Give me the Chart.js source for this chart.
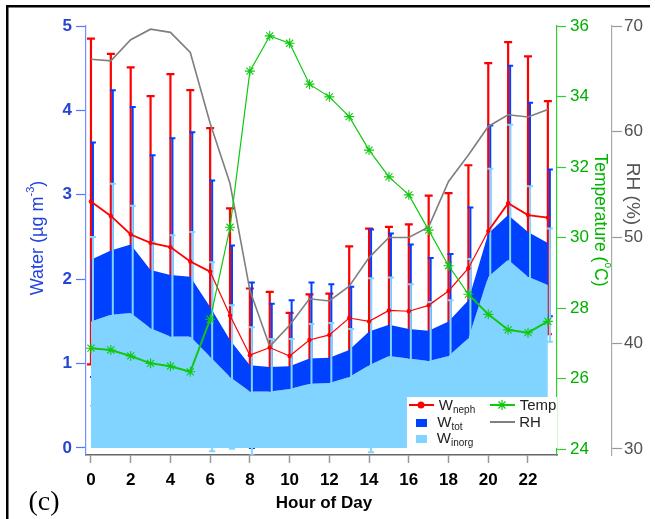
<!DOCTYPE html>
<html>
<head>
<meta charset="utf-8">
<script src="https://cdn.jsdelivr.net/npm/chart.js@4.4.1/dist/chart.umd.min.js"></script>
<style>
  html, body { margin: 0; padding: 0; background: #fff; }
  #wrap { width: 655px; height: 519px; }
</style>
</head>
<body>
<div id="wrap"><canvas id="myChart" width="655" height="519"></canvas></div>
<script>
const hours = [0, 1, 2, 3, 4, 5, 6, 7, 8, 9, 10, 11, 12, 13, 14, 15, 16, 17, 18, 19, 20, 21, 22, 23];

// water (ug m-3) and symmetric error bars
const wNeph = [2.92, 2.75, 2.53, 2.43, 2.38, 2.21, 2.09, 1.57, 1.10, 1.19, 1.09, 1.28, 1.34, 1.54, 1.50, 1.63, 1.62, 1.69, 1.86, 2.13, 2.57, 2.90, 2.76, 2.73];
const wNephErr = [1.93, 1.92, 1.98, 1.74, 2.05, 2.03, 1.70, 1.27, 0.79, 0.66, 0.51, 0.54, 0.49, 0.85, 1.10, 0.99, 1.03, 1.30, 1.16, 1.22, 1.99, 1.91, 1.88, 1.38];
const wTot = [2.23, 2.34, 2.41, 2.11, 2.05, 2.03, 1.67, 1.28, 0.98, 0.96, 0.97, 1.06, 1.07, 1.16, 1.38, 1.46, 1.41, 1.39, 1.50, 1.75, 2.54, 2.76, 2.56, 2.43];
const wTotErr = [1.39, 1.90, 1.63, 1.36, 1.62, 1.71, 1.50, 1.12, 0.98, 0.75, 0.78, 0.90, 0.87, 0.75, 1.21, 1.08, 1.00, 0.86, 0.80, 1.10, 1.28, 1.77, 1.53, 0.87];
const wInorg = [1.50, 1.58, 1.60, 1.42, 1.32, 1.32, 1.08, 0.84, 0.67, 0.67, 0.70, 0.76, 0.77, 0.84, 0.98, 1.09, 1.06, 1.03, 1.09, 1.30, 2.03, 2.23, 2.03, 1.93];
const wInorgErr = [1.00, 1.55, 1.27, 1.02, 1.20, 1.24, 1.12, 0.85, 0.76, 0.62, 0.59, 0.71, 0.71, 0.57, 1.03, 0.93, 0.88, 0.70, 0.66, 0.94, 1.28, 1.60, 1.07, 0.67];

// temperature (C) and RH (%)
const temp = [26.86, 26.81, 26.64, 26.43, 26.35, 26.19, 27.68, 30.29, 34.72, 35.72, 35.51, 34.35, 33.99, 33.43, 32.48, 31.72, 31.21, 30.21, 29.20, 28.39, 27.82, 27.38, 27.30, 27.62];
const rh = [66.85, 66.7, 68.7, 69.7, 69.4, 67.5, 60.8, 55.1, 45.0, 39.7, 41.7, 44.2, 44.0, 45.4, 48.1, 50.0, 50.0, 51.0, 55.3, 57.8, 60.5, 61.6, 61.4, 62.1];

const hourTicks = [0, 2, 4, 6, 8, 10, 12, 14, 16, 18, 20, 22];
const waterTicks = [0, 1, 2, 3, 4, 5];
const tempTicks = [24, 26, 28, 30, 32, 34, 36];
const rhTicks = [30, 40, 50, 60, 70];

const RED = "#ff0000";
const BLUE = "#0040ff";
const LIGHT = "#80d4ff";
const GREEN = "#11c811";
const GRAY = "#7f7f7f";
const FONT = "'Liberation Sans', Arial, sans-serif";

const xy = (vals) => hours.map((h, i) => ({ x: h, y: vals[i] }));
const setTicks = (list) => (scale) => { scale.ticks = list.map((v) => ({ value: v })); };
const fitV = (w) => (scale) => { scale.width = w; scale.paddingTop = 0; scale.paddingBottom = 0; };

// rich text with sub/superscripts, centred on (cx, cy), rotated
function richText(ctx, runs, cx, cy, angle, color) {
  ctx.save();
  ctx.translate(cx, cy);
  ctx.rotate(angle);
  ctx.fillStyle = color;
  ctx.textBaseline = "middle";
  ctx.textAlign = "left";
  let w = 0;
  runs.forEach((r) => { ctx.font = (r.bold ? "bold " : "") + r.size + "px " + (r.family || FONT); r.w = ctx.measureText(r.t).width; w += r.w; });
  let x = -w / 2;
  runs.forEach((r) => {
    ctx.font = (r.bold ? "bold " : "") + r.size + "px " + (r.family || FONT);
    ctx.fillText(r.t, x, r.dy || 0);
    x += r.w;
  });
  ctx.restore();
}

function drawBars(chart, vals, errs, color, lw, dx, cap) {
  const ctx = chart.ctx;
  const a = chart.chartArea;
  const xs = chart.scales.x;
  const ys = chart.scales.y;
  ctx.save();
  ctx.beginPath();
  ctx.rect(a.left, a.top, a.right - a.left, a.bottom - a.top);
  ctx.clip();
  ctx.strokeStyle = color;
  ctx.lineWidth = lw;
  vals.forEach((v, i) => {
    const x = xs.getPixelForValue(hours[i]) + dx;
    const y1 = ys.getPixelForValue(v + errs[i]);
    const y2 = ys.getPixelForValue(v - errs[i]);
    ctx.beginPath();
    ctx.moveTo(x, y1); ctx.lineTo(x, y2);
    ctx.moveTo(x - cap, y1); ctx.lineTo(x + cap, y1);
    ctx.moveTo(x - cap, y2); ctx.lineTo(x + cap, y2);
    ctx.stroke();
  });
  ctx.restore();
}

const background = {
  id: "background",
  beforeDraw(chart) {
    const ctx = chart.ctx;
    ctx.save();
    ctx.fillStyle = "#fff";
    ctx.fillRect(0, 0, chart.width, chart.height);
    ctx.fillStyle = "#000";
    ctx.fillRect(6, 5, 2.5, chart.height - 5);
    ctx.fillRect(6, 5, 644, 2.5);
    ctx.restore();
  },
};

// red and blue bars sit behind the filled areas, light blue bars on top of them
const errorBars = {
  id: "errorBars",
  beforeDatasetsDraw(chart) {
    drawBars(chart, wNeph, wNephErr, RED, 2.2, 0, 4);
    drawBars(chart, wTot, wTotErr, BLUE, 2, 2, 3);
  },
  afterDatasetDraw(chart, args) {
    if (args.index !== 1) return;
    drawBars(chart, wInorg, wInorgErr, LIGHT, 2, 2, 3);
  },
};

const decorations = {
  id: "decorations",
  afterDraw(chart) {
    const ctx = chart.ctx;
    const a = chart.chartArea;

    // legend
    const L = a.right - 150, T = a.bottom - 58;
    ctx.save();
    ctx.fillStyle = "#fff";
    ctx.fillRect(L, T, 150, 51);
    ctx.strokeStyle = RED; ctx.lineWidth = 2;
    ctx.beginPath(); ctx.moveTo(L + 2, T + 8); ctx.lineTo(L + 27, T + 8); ctx.stroke();
    ctx.fillStyle = RED;
    ctx.beginPath(); ctx.arc(L + 14, T + 8, 3.5, 0, Math.PI * 2); ctx.fill();
    ctx.fillStyle = BLUE; ctx.fillRect(L + 9, T + 22, 11, 8);
    ctx.fillStyle = LIGHT; ctx.fillRect(L + 9, T + 38, 11, 8);
    ctx.strokeStyle = GREEN; ctx.lineWidth = 2;
    ctx.beginPath(); ctx.moveTo(L + 83, T + 8); ctx.lineTo(L + 108, T + 8); ctx.stroke();
    ctx.lineWidth = 1.2;
    ctx.beginPath();
    for (let k = 0; k < 4; k++) {
      const ang = k * Math.PI / 4;
      ctx.moveTo(L + 95 - 5 * Math.cos(ang), T + 8 - 5 * Math.sin(ang));
      ctx.lineTo(L + 95 + 5 * Math.cos(ang), T + 8 + 5 * Math.sin(ang));
    }
    ctx.stroke();
    ctx.strokeStyle = GRAY; ctx.lineWidth = 2;
    ctx.beginPath(); ctx.moveTo(L + 83, T + 25); ctx.lineTo(L + 108, T + 25); ctx.stroke();
    ctx.restore();
    const txt = "#222";
    richText(ctx, [{ t: "W", size: 15 }, { t: "neph", size: 10, dy: 4 }], L + 50, T + 9, 0, txt);
    richText(ctx, [{ t: "W", size: 15 }, { t: "tot", size: 10, dy: 4 }], L + 43, T + 26, 0, txt);
    richText(ctx, [{ t: "W", size: 15 }, { t: "inorg", size: 10, dy: 4 }], L + 48, T + 42, 0, txt);
    richText(ctx, [{ t: "Temp", size: 15 }], L + 131, T + 9, 0, txt);
    richText(ctx, [{ t: "RH", size: 15 }], L + 123, T + 26, 0, txt);

    // axis titles
    richText(ctx, [{ t: "Water (\u00b5g m", size: 18 }, { t: "-3", size: 11, dy: -7 }, { t: ")", size: 18 }], 38, 238, -Math.PI / 2, "#2244dd");
    richText(ctx, [{ t: "Temperature (", size: 17.5 }, { t: "o", size: 10, dy: -8 }, { t: "C)", size: 17.5 }], 600, 220, Math.PI / 2, "#00b400");
    richText(ctx, [{ t: "RH (%)", size: 19 }], 632, 194, Math.PI / 2, "#555");
    richText(ctx, [{ t: "Hour of Day", size: 17, bold: true }], 324, 503, 0, "#000");
    richText(ctx, [{ t: "(c)", size: 28, family: "'Liberation Serif', 'Times New Roman', serif" }], 44, 503, 0, "#000");
  },
};

const ctx = document.getElementById("myChart").getContext("2d");
const myChart = new Chart(ctx, {
  type: "line",
  data: {
    datasets: [
      {
        label: "Winorg",
        data: xy(wInorg),
        yAxisID: "y",
        order: 6,
        fill: "origin",
        backgroundColor: LIGHT,
        borderWidth: 0,
        pointRadius: 0,
      },
      {
        label: "Wtot",
        data: xy(wTot),
        yAxisID: "y",
        order: 5,
        fill: "-1",
        backgroundColor: BLUE,
        borderWidth: 0,
        pointRadius: 0,
      },
      {
        label: "RH",
        data: xy(rh),
        yAxisID: "yRH",
        order: 4,
        borderColor: GRAY,
        borderWidth: 1.6,
        pointRadius: 0,
      },
      {
        label: "Wneph",
        data: xy(wNeph),
        yAxisID: "y",
        order: 2,
        borderColor: RED,
        backgroundColor: RED,
        borderWidth: 1.4,
        pointRadius: 2.2,
        pointBorderWidth: 0,
        segment: { borderWidth: (c) => (c.p0DataIndex <= 5 || c.p0DataIndex >= 20 ? 1.8 : 1.2) },
      },
      {
        label: "Temp",
        data: xy(temp),
        yAxisID: "yT",
        order: 1,
        borderColor: GREEN,
        backgroundColor: GREEN,
        borderWidth: 1.4,
        pointStyle: "star",
        pointRadius: 5,
        pointBorderWidth: 1.1,
        pointBorderColor: GREEN,
        segment: { borderWidth: (c) => (c.p0DataIndex <= 5 || c.p0DataIndex >= 19 ? 2 : 1.2) },
      },
    ],
  },
  options: {
    responsive: false,
    animation: false,
    layout: { padding: { top: 26, left: 0, right: 0, bottom: 0 } },
    plugins: { legend: { display: false }, tooltip: { enabled: false } },
    elements: { line: { tension: 0 } },
    scales: {
      x: {
        type: "linear",
        min: -0.25,
        max: 23.46,
        afterBuildTicks: setTicks(hourTicks),
        afterFit: (s) => { s.height = 64; s.paddingLeft = 0; s.paddingRight = 0; },
        border: { color: "#666", width: 1.5 },
        grid: { drawOnChartArea: false, drawTicks: true, tickLength: 8, color: "#999", tickWidth: 1.5 },
        ticks: { autoSkip: false, maxRotation: 0, padding: 7, color: "#000", font: { family: FONT, size: 17, weight: "bold" } },
      },
      y: {
        position: "left",
        min: -0.083,
        max: 5,
        afterBuildTicks: setTicks(waterTicks),
        afterFit: fitV(86),
        border: { color: "#7090ff", width: 1.2 },
        grid: { drawOnChartArea: false, drawTicks: true, tickLength: 10, color: "#5577ff", tickWidth: 1.2 },
        ticks: { padding: 4, color: "#2545d5", font: { family: FONT, size: 17, weight: "bold" } },
      },
      yT: {
        position: "right",
        min: 23.83,
        max: 36,
        afterBuildTicks: setTicks(tempTicks),
        afterFit: fitV(55),
        border: { color: "#33cc33", width: 1.2 },
        grid: { drawOnChartArea: false, drawTicks: true, tickLength: 9, color: "#33cc33", tickWidth: 1.2 },
        ticks: { padding: 4, color: "#00b000", font: { family: FONT, size: 17 } },
      },
      yRH: {
        position: "right",
        min: 29.43,
        max: 70,
        afterBuildTicks: setTicks(rhTicks),
        afterFit: fitV(43),
        border: { color: "#aaa", width: 1.2 },
        grid: { drawOnChartArea: false, drawTicks: true, tickLength: 10, color: "#999", tickWidth: 1.2 },
        ticks: { padding: 2, color: "#505050", font: { family: FONT, size: 17 } },
      },
    },
  },
  plugins: [background, errorBars, decorations],
});
</script>
</body>
</html>
